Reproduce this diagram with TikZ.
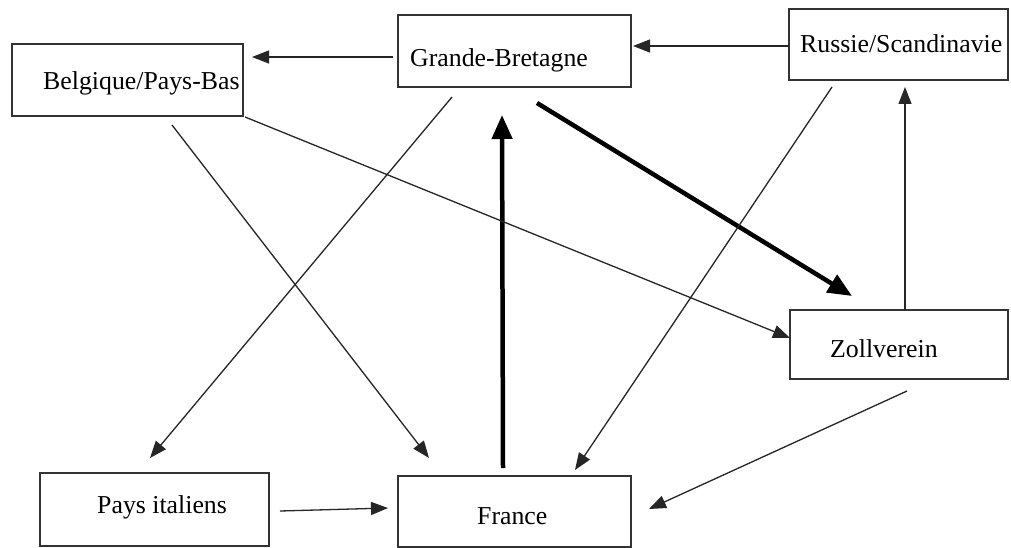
\documentclass[tikz,border=0pt]{standalone}
\usepackage{fontspec}
\setmainfont{Liberation Serif}
\usetikzlibrary{arrows.meta}
\begin{document}
\begin{tikzpicture}[x=1pt,y=-1pt,
  box/.style={draw=black!80, line width=1.6pt, inner sep=0pt},
  lbl/.style={anchor=base west, inner sep=0pt, font=\fontsize{25.8}{30}\selectfont},
  thinarrow/.style={draw=black!85, line width=1.3pt, -{Triangle[length=17pt,width=13pt]}},
  thickarrow/.style={draw=black, line width=4.5pt, -{Triangle[length=24pt,width=20pt]}}]
\useasboundingbox[fill=white] (0,0) rectangle (1011,548);
% boxes
\node[box, minimum width=231pt, minimum height=72pt] (belg) at (127.5,80) {};
\node[box, minimum width=233pt, minimum height=72pt] (gb) at (514.5,51) {};
\node[box, minimum width=219pt, minimum height=71pt] (rus) at (898.5,44.5) {};
\node[box, minimum width=218pt, minimum height=69pt] (zoll) at (899,344.5) {};
\node[box, minimum width=229pt, minimum height=73pt] (pays) at (154.5,509.5) {};
\node[box, minimum width=233pt, minimum height=71pt] (france) at (514.5,511.5) {};
% labels
\node[lbl] (tbelg) at (43,90) {Belgique/Pays-Bas};
\node[lbl] (tgb) at (410,67) {Grande-Bretagne};
\node[lbl] (trus) at (800,53) {Russie/Scandinavie};
\node[lbl] (tzoll) at (830,357) {Zollverein};
\node[lbl] (tpays) at (97,513) {Pays italiens};
\node[lbl] (tfrance) at (477,524) {France};
% connector end points
\coordinate (gbW) at (393,57);   \coordinate (belgE) at (252,57);
\coordinate (rusW) at (789,46);  \coordinate (gbE) at (633,46);
\coordinate (zollN) at (905,310); \coordinate (rusS) at (905,87);
\coordinate (frN) at (503,468);  \coordinate (gbS) at (502,115);
\coordinate (gbSE) at (537,103); \coordinate (zollNW) at (852,296);
\coordinate (belgSE) at (245,117); \coordinate (zollW) at (790,338);
\coordinate (belgS) at (172,125); \coordinate (frNW) at (429,458);
\coordinate (gbSW) at (452,97);  \coordinate (paysN) at (150,458);
\coordinate (rusSW) at (832,87); \coordinate (frNE) at (575,470);
\coordinate (zollS) at (907,391); \coordinate (frE) at (649,509);
\coordinate (paysE) at (280,511); \coordinate (frW) at (388,508);
% connectors
\draw[thinarrow] (gbW) -- (belgE);
\draw[thinarrow] (rusW) -- (gbE);
\draw[thinarrow] (zollN) -- (rusS);
\draw[thickarrow] (frN) -- (gbS);
\draw[thickarrow] (gbSE) -- (zollNW);
\draw[thinarrow] (belgSE) -- (zollW);
\draw[thinarrow] (belgS) -- (frNW);
\draw[thinarrow] (gbSW) -- (paysN);
\draw[thinarrow] (rusSW) -- (frNE);
\draw[thinarrow] (zollS) -- (frE);
\draw[thinarrow] (paysE) -- (frW);
\end{tikzpicture}
\end{document}
